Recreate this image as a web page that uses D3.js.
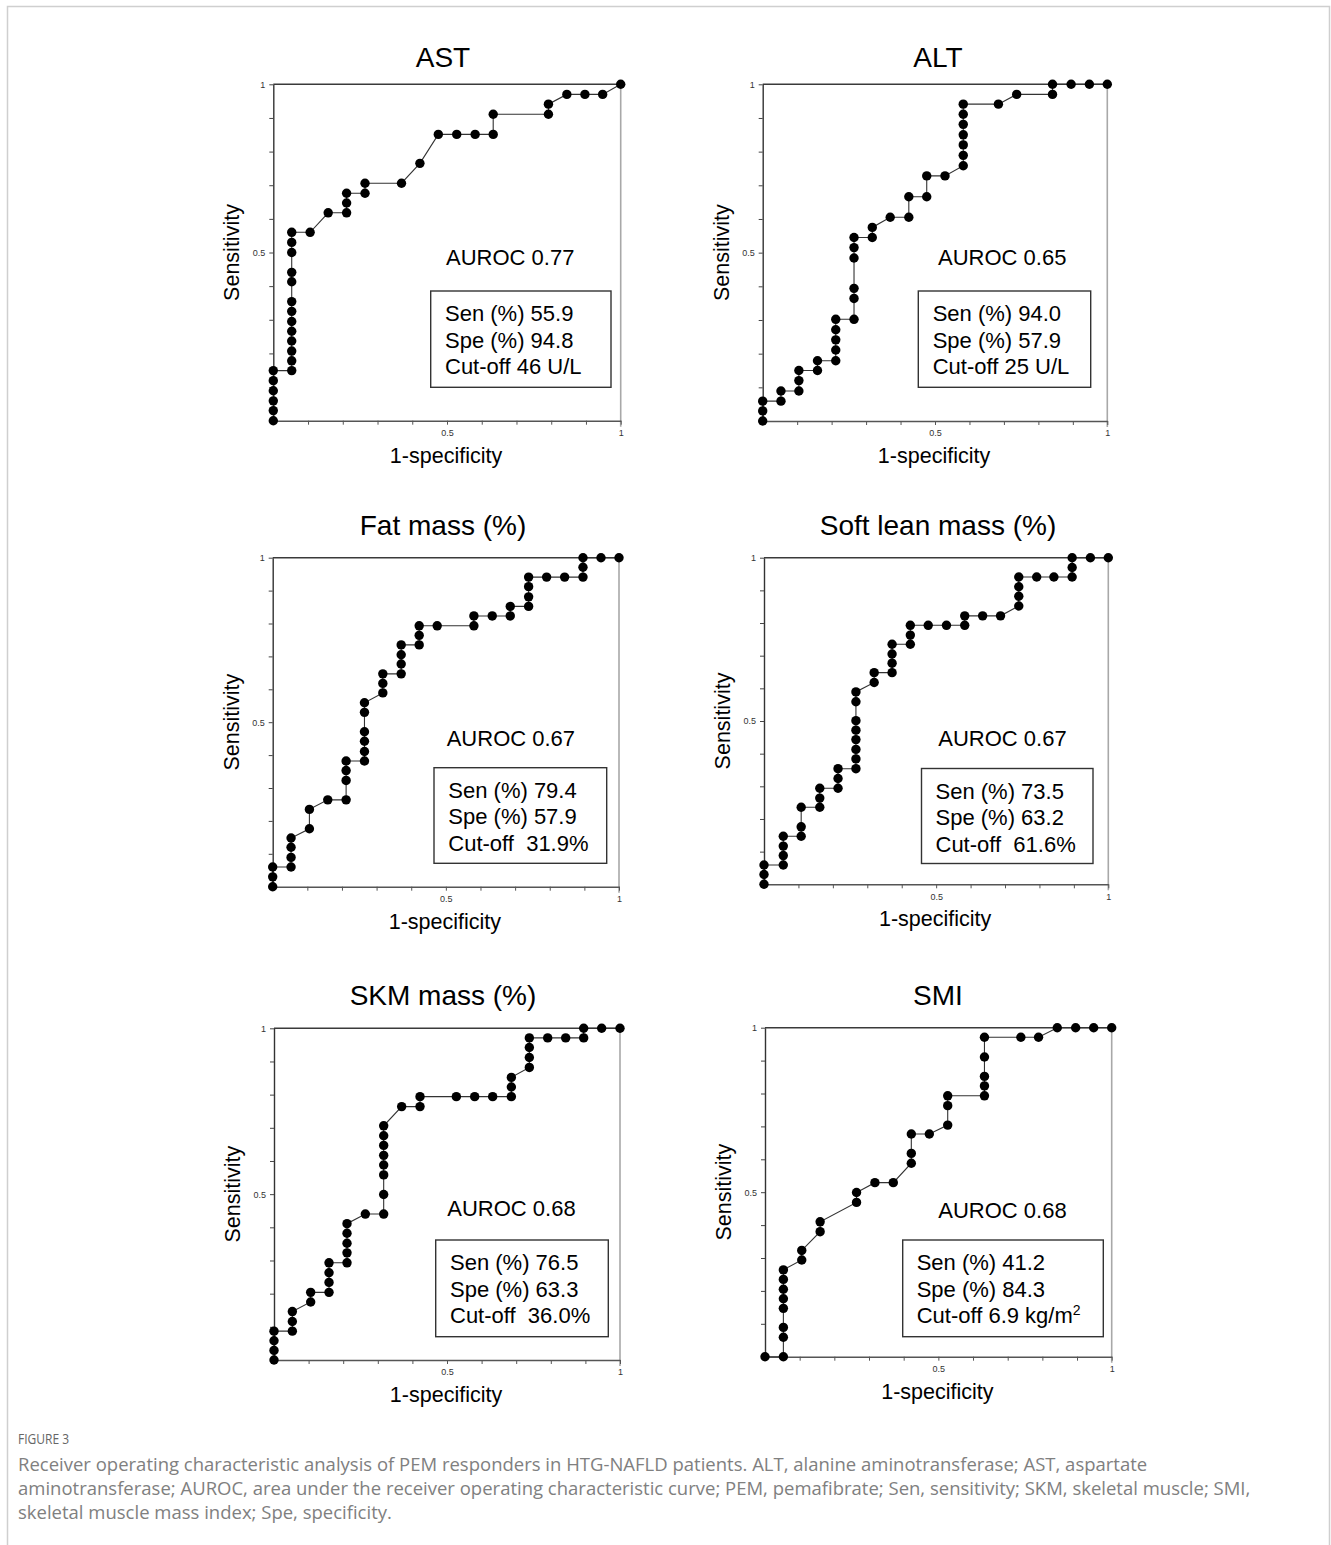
<!DOCTYPE html>
<html>
<head>
<meta charset="utf-8">
<script src="https://cdn.jsdelivr.net/npm/d3@7"></script>
<style>
  html, body { margin: 0; padding: 0; background: #fff; }
  svg { display: block; }
</style>
</head>
<body>
<svg id="fig" width="1331" height="1545"></svg>
<script>
// ROC points as [1-specificity, sensitivity]
const astPoints = [
  [0,0],[0,.030],[0,.059],[0,.089],[0,.119],[0,.149],
  [.053,.149],[.053,.178],[.053,.207],[.053,.237],[.053,.266],[.053,.295],[.053,.325],[.053,.354],
  [.053,.413],[.053,.441],[.053,.500],[.053,.530],[.053,.560],
  [.106,.560],[.158,.618],
  [.211,.618],[.211,.647],[.211,.676],
  [.264,.676],[.264,.706],
  [.369,.706],[.422,.765],
  [.475,.851],[.528,.851],[.581,.851],[.633,.851],[.633,.911],
  [.792,.911],[.792,.941],
  [.845,.970],[.897,.970],[.948,.970],[1,1]
];
const altPoints = [
  [0,0],[0,.030],[0,.059],
  [.053,.059],[.053,.089],
  [.105,.089],[.105,.120],[.105,.150],
  [.159,.150],[.159,.179],
  [.212,.179],[.212,.211],[.212,.241],[.212,.271],[.212,.302],
  [.265,.302],[.265,.364],[.265,.394],[.265,.484],[.265,.515],[.265,.545],
  [.318,.545],[.318,.575],
  [.370,.605],
  [.424,.605],[.424,.666],
  [.476,.666],[.476,.728],
  [.529,.728],
  [.582,.758],[.582,.789],[.582,.820],[.582,.850],[.582,.881],[.582,.911],[.582,.941],
  [.684,.941],[.737,.970],
  [.841,.970],[.841,1],
  [.895,1],[.948,1],[1,1]
];
const fatPoints = [
  [0,0],[0,.030],[0,.060],
  [.053,.060],[.053,.089],[.053,.120],[.053,.148],
  [.106,.176],[.106,.235],
  [.159,.264],
  [.212,.264],[.212,.323],[.212,.353],[.212,.382],
  [.265,.382],[.265,.411],[.265,.442],[.265,.471],[.265,.530],[.265,.559],
  [.318,.589],[.318,.618],[.318,.647],
  [.371,.647],[.371,.677],[.371,.705],[.371,.735],
  [.423,.735],[.423,.764],[.423,.793],
  [.475,.793],
  [.581,.793],[.581,.823],
  [.634,.823],
  [.686,.823],[.686,.852],
  [.739,.852],[.739,.881],[.739,.912],[.739,.941],
  [.791,.941],[.843,.941],
  [.896,.941],[.896,.971],[.896,1],
  [.948,1],[1,1]
];
const leanPoints = [
  [0,0],[0,.030],[0,.059],
  [.056,.059],[.056,.088],[.056,.117],[.056,.147],
  [.108,.147],[.108,.176],[.108,.236],
  [.162,.236],[.162,.264],[.162,.294],
  [.215,.294],[.215,.324],[.215,.354],
  [.267,.354],[.267,.384],[.267,.413],[.267,.443],[.267,.472],[.267,.501],[.267,.559],[.267,.589],
  [.320,.618],[.320,.648],
  [.372,.648],[.372,.677],[.372,.705],[.372,.735],
  [.425,.735],[.425,.763],[.425,.793],
  [.477,.793],[.530,.793],
  [.583,.793],[.583,.822],
  [.635,.822],[.687,.822],
  [.740,.852],[.740,.882],[.740,.911],[.740,.941],
  [.792,.941],[.842,.941],
  [.895,.941],[.895,.970],[.895,1],
  [.948,1],[1,1]
];
const skmPoints = [
  [0,0],[0,.029],[0,.058],[0,.087],
  [.053,.087],[.053,.116],[.053,.146],
  [.106,.175],[.106,.204],
  [.159,.204],[.159,.234],[.159,.263],[.159,.293],
  [.211,.293],[.211,.323],[.211,.352],[.211,.382],[.211,.411],
  [.264,.440],
  [.317,.440],[.317,.499],[.317,.558],[.317,.588],[.317,.617],[.317,.647],[.317,.676],[.317,.706],
  [.369,.764],
  [.422,.764],[.422,.794],
  [.527,.794],[.580,.794],[.632,.794],
  [.686,.794],[.686,.823],[.686,.852],
  [.738,.882],[.738,.912],[.738,.942],[.738,.971],
  [.791,.971],[.843,.971],
  [.895,.971],[.895,1],
  [.947,1],[1,1]
];
const smiPoints = [
  [0,0],
  [.053,0],[.053,.059],[.053,.089],[.053,.147],[.053,.176],[.053,.205],[.053,.235],[.053,.264],
  [.106,.294],[.106,.323],
  [.159,.380],[.159,.410],
  [.264,.469],[.264,.499],
  [.317,.529],[.370,.529],
  [.422,.588],[.422,.618],[.422,.677],
  [.474,.677],
  [.527,.704],[.527,.763],[.527,.793],
  [.633,.793],[.633,.823],[.633,.852],[.633,.911],[.633,.971],
  [.738,.971],[.789,.971],
  [.843,1],[.896,1],[.948,1],[1,1]
];

const panelTitles = ["AST", "ALT", "Fat mass (%)", "Soft lean mass (%)", "SKM mass (%)", "SMI"];
const aurocLabels = ["AUROC 0.77", "AUROC 0.65", "AUROC 0.67", "AUROC 0.67", "AUROC 0.68", "AUROC 0.68"];
const senLabels = ["Sen (%) 55.9", "Sen (%) 94.0", "Sen (%) 79.4", "Sen (%) 73.5", "Sen (%) 76.5", "Sen (%) 41.2"];
const speLabels = ["Spe (%) 94.8", "Spe (%) 57.9", "Spe (%) 57.9", "Spe (%) 63.2", "Spe (%) 63.3", "Spe (%) 84.3"];
const cutoffLabels = ["Cut-off 46 U/L", "Cut-off 25 U/L", "Cut-off\u00a0 31.9%", "Cut-off\u00a0 61.6%", "Cut-off\u00a0 36.0%", "Cut-off 6.9 kg/m"];
const tickLabels = { 0.5: "0.5", 1: "1" };
const captionHead = "FIGURE 3";
const captionLines = [
  "Receiver operating characteristic analysis of PEM responders in HTG-NAFLD patients. ALT, alanine aminotransferase; AST, aspartate",
  "aminotransferase; AUROC, area under the receiver operating characteristic curve; PEM, pemafibrate; Sen, sensitivity; SKM, skeletal muscle; SMI,",
  "skeletal muscle mass index; Spe, specificity."
];

const seriesList = [astPoints, altPoints, fatPoints, leanPoints, skmPoints, smiPoints];

// panel geometry: plot frame and annotation placement
const layout = [
  { l: 273.3, r: 620.7, t: 84.3, b: 420.7, tx: 443, ty: 67, au: [446, 265], box: [430.7, 291, 180.3, 96.3], bx: 445 },
  { l: 762.7, r: 1107.3, t: 84.3, b: 421.0, tx: 938, ty: 67, au: [938, 265], box: [918.3, 291, 172.4, 96.3], bx: 932.7 },
  { l: 272.7, r: 619.0, t: 557.7, b: 886.7, tx: 443, ty: 535, au: [446.7, 746], box: [434, 767.7, 172.7, 95.6], bx: 448.3 },
  { l: 764.0, r: 1108.3, t: 557.7, b: 884.3, tx: 938, ty: 535, au: [938.3, 746], box: [921.5, 768.5, 171.5, 95], bx: 935.5 },
  { l: 274.0, r: 620.0, t: 1028.3, b: 1360.0, tx: 443, ty: 1005, au: [447.3, 1216], box: [435.7, 1240, 172.6, 96.7], bx: 450 },
  { l: 765.0, r: 1111.7, t: 1027.7, b: 1356.7, tx: 938, ty: 1005, au: [938.3, 1218], box: [902.7, 1240, 200.6, 96.7], bx: 916.7 }
];

const svg = d3.select("#fig");
const sans = "'Liberation Sans', Arial, Helvetica, sans-serif";

// outer frame
svg.append("rect").attr("x", 7.5).attr("y", 6.5).attr("width", 1322).attr("height", 1545)
  .attr("fill", "none").attr("stroke", "#cfcfcf").attr("stroke-width", 1.5);

seriesList.forEach((pts, i) => {
  const L = layout[i];
  const g = svg.append("g");
  const x = d3.scaleLinear().domain([0, 1]).range([L.l, L.r]);
  const y = d3.scaleLinear().domain([0, 1]).range([L.b, L.t]);
  const tickVals = d3.range(0, 11).map(k => k / 10);
  const fmt = v => tickLabels[Math.round(v * 10) / 10] || "";

  // frame: top and right edges
  g.append("line").attr("x1", L.l).attr("x2", L.r).attr("y1", L.t).attr("y2", L.t)
    .attr("stroke", "#3a3a3a").attr("stroke-width", 1.4);
  g.append("line").attr("x1", L.r).attr("x2", L.r).attr("y1", L.t).attr("y2", L.b + 6)
    .attr("stroke", "#a8a8a8").attr("stroke-width", 1.6);

  // bottom axis
  const ax = g.append("g").attr("transform", `translate(0,${L.b})`)
    .call(d3.axisBottom(x).tickValues(tickVals).tickFormat(fmt).tickSize(4).tickSizeOuter(0).tickPadding(5));
  ax.select(".domain").attr("stroke", "#555").attr("stroke-width", 1.4);
  ax.selectAll(".tick line").attr("stroke", "#555").attr("stroke-width", 1);
  ax.selectAll(".tick text").attr("font-family", sans).attr("font-size", 9).attr("fill", "#333");

  // left axis
  const ay = g.append("g").attr("transform", `translate(${L.l},0)`)
    .call(d3.axisLeft(y).tickValues(tickVals).tickFormat(fmt).tickSize(4).tickSizeOuter(0).tickPadding(4));
  ay.select(".domain").attr("stroke", "#333").attr("stroke-width", 1.4);
  ay.selectAll(".tick line").attr("stroke", "#444").attr("stroke-width", 1);
  ay.selectAll(".tick text").attr("font-family", sans).attr("font-size", 9).attr("fill", "#333");

  // ROC polyline and markers
  const line = d3.line().x(d => x(d[0])).y(d => y(d[1]));
  g.append("path").datum(pts).attr("d", line)
    .attr("fill", "none").attr("stroke", "#333").attr("stroke-width", 1.1);
  g.selectAll("circle").data(pts).join("circle")
    .attr("cx", d => x(d[0])).attr("cy", d => y(d[1])).attr("r", 4.7).attr("fill", "#000");

  // titles and axis labels
  g.append("text").attr("x", L.tx).attr("y", L.ty).attr("text-anchor", "middle")
    .attr("font-family", sans).attr("font-size", 28).attr("fill", "#000").text(panelTitles[i]);
  g.append("text").attr("x", (L.l + L.r) / 2 - 1).attr("y", L.b + 42).attr("text-anchor", "middle")
    .attr("font-family", sans).attr("font-size", 21.5).attr("fill", "#000").text("1-specificity");
  g.append("text").attr("transform", `translate(${L.l - 34},${(L.t + L.b) / 2}) rotate(-90)`)
    .attr("text-anchor", "middle").attr("font-family", sans).attr("font-size", 21.5).attr("fill", "#000")
    .text("Sensitivity");

  // AUROC and threshold box
  g.append("text").attr("x", L.au[0]).attr("y", L.au[1])
    .attr("font-family", sans).attr("font-size", 22).attr("fill", "#000").text(aurocLabels[i]);
  g.append("rect").attr("x", L.box[0]).attr("y", L.box[1]).attr("width", L.box[2]).attr("height", L.box[3])
    .attr("fill", "#fff").attr("stroke", "#333").attr("stroke-width", 1.4);
  const lines = [senLabels[i], speLabels[i], cutoffLabels[i]];
  lines.forEach((s, k) => {
    const t = g.append("text").attr("x", L.bx).attr("y", L.box[1] + 30 + k * 26.7)
      .attr("font-family", sans).attr("font-size", 22).attr("fill", "#000").text(s);
    if (i === 5 && k === 2) {
      t.append("tspan").attr("font-size", 14).attr("dy", -8).text("2");
    }
  });
});

// caption: a narrow rendering of the sans face, scaled horizontally to its measured span
const capFont = "'Open Sans', sans-serif";
const head = svg.append("text").attr("font-family", capFont).attr("font-size", 14).attr("fill", "#666")
  .text(captionHead);
head.attr("transform", "translate(18,1444) scale(0.86,1)");
const capTexts = captionLines.map((s, k) =>
  svg.append("text").attr("font-family", capFont).attr("font-size", 17.5).attr("fill", "#808080").text(s));
const w0 = capTexts[0].node().getComputedTextLength();
const sx = 1130 / w0;
capTexts.forEach((t, k) => t.attr("transform", `translate(18,${1471 + k * 24}) scale(${sx},1)`));
</script>
</body>
</html>
